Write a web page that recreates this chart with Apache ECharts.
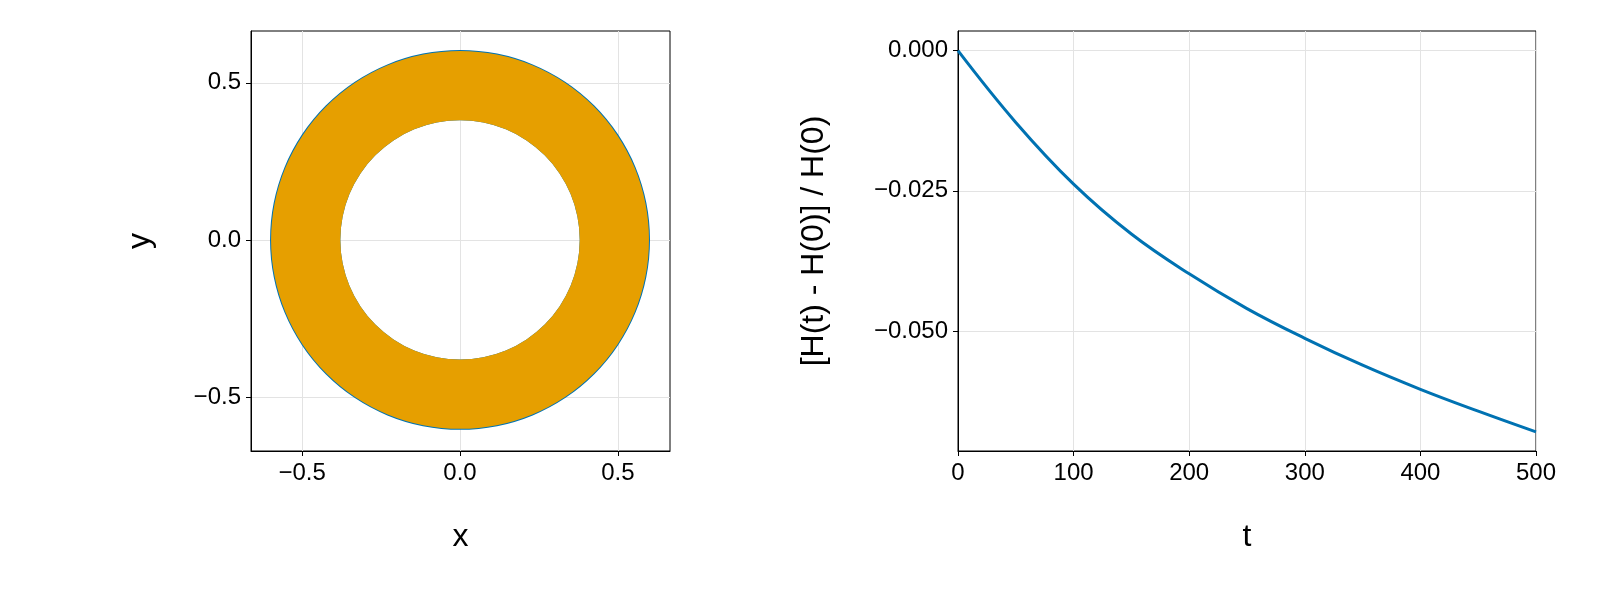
<!DOCTYPE html>
<html><head><meta charset="utf-8">
<script src="https://cdn.jsdelivr.net/npm/echarts@6/dist/echarts.min.js"></script>
<style>html,body{margin:0;padding:0;background:#fff}#c{width:1600px;height:600px}</style>
</head><body><div id="c"></div>
<script>
// orbit annulus: center and radii
const ringCenter = [0, 0];
const ringInner = [0.38];
const ringOuter = [0.6];
const orbitTicks = [-0.5, 0, 0.5];
// energy drift
const tVals = [0, 50, 100, 150, 200, 250, 300, 350, 400, 450, 500];
const dH = [0, -0.0128, -0.0238, -0.0327, -0.0398, -0.0460, -0.0513, -0.0561, -0.0604, -0.0643, -0.0680];
const tTicks = [0, 100, 200, 300, 400, 500];
const hTicks = [0, -0.025, -0.05];

const FONT = 'Liberation Sans';
const fmt = (d) => v => (v < 0 ? '\u2212' : '') + Math.abs(v).toFixed(d);
function ax(name, min, max, ticks, formatter, gap) {
  return {
    type: 'value', min, max, name, nameLocation: 'middle', nameGap: gap,
    nameTextStyle: {fontFamily: FONT, fontSize: 32, color: '#000'},
    axisLine: {show: true, onZero: false, lineStyle: {color: '#000', width: 1}},
    axisTick: {show: true, customValues: ticks, length: 5, inside: false, lineStyle: {color: '#000'}},
    axisLabel: {customValues: ticks, formatter, fontFamily: FONT, fontSize: 24, color: '#000', margin: 10},
    splitLine: {show: true, lineStyle: {color: '#e3e3e3', width: 1}}
  };
}
const chart = echarts.init(document.getElementById('c'));
chart.setOption({
  animation: false,
  grid: [
    {left: 251, top: 31, width: 419, height: 420, show: true, borderColor: '#000', borderWidth: 1},
    {left: 958, top: 31, width: 578, height: 420, show: true, borderColor: '#000', borderWidth: 1}
  ],
  xAxis: [
    Object.assign(ax('x', -0.662, 0.665, orbitTicks, fmt(1), 70), {gridIndex: 0}),
    Object.assign(ax('t', 0, 500, tTicks, v => String(v), 70), {gridIndex: 1})
  ],
  yAxis: [
    Object.assign(ax('y', -0.672, 0.665, orbitTicks, fmt(1), 95), {gridIndex: 0}),
    Object.assign(ax('[H(t) - H(0)] / H(0)', -0.0714, 0.0035, hTicks, fmt(3), 128), {gridIndex: 1})
  ],
  series: [
    {
      type: 'custom', xAxisIndex: 0, yAxisIndex: 0,
      data: [[ringCenter[0], ringCenter[1], ringInner[0], ringOuter[0]]],
      renderItem: function (params, api) {
        const c = api.coord([api.value(0), api.value(1)]);
        const so = api.size([api.value(3), api.value(3)]);
        const si = api.size([api.value(2), api.value(2)]);
        const ro = (so[0] + so[1]) / 2, ri = (si[0] + si[1]) / 2;
        return {type: 'group', children: [
          {type: 'ring', shape: {cx: c[0], cy: c[1], r: ro + 1, r0: ri}, style: {fill: '#0072b2'}},
          {type: 'ring', shape: {cx: c[0], cy: c[1], r: ro, r0: ri}, style: {fill: '#e69f00'}}
        ]};
      }
    },
    {
      type: 'line', xAxisIndex: 1, yAxisIndex: 1, smooth: 0.4, showSymbol: false,
      data: tVals.map((t, i) => [t, dH[i]]),
      lineStyle: {color: '#0072b2', width: 3}
    }
  ]
});
</script></body></html>
